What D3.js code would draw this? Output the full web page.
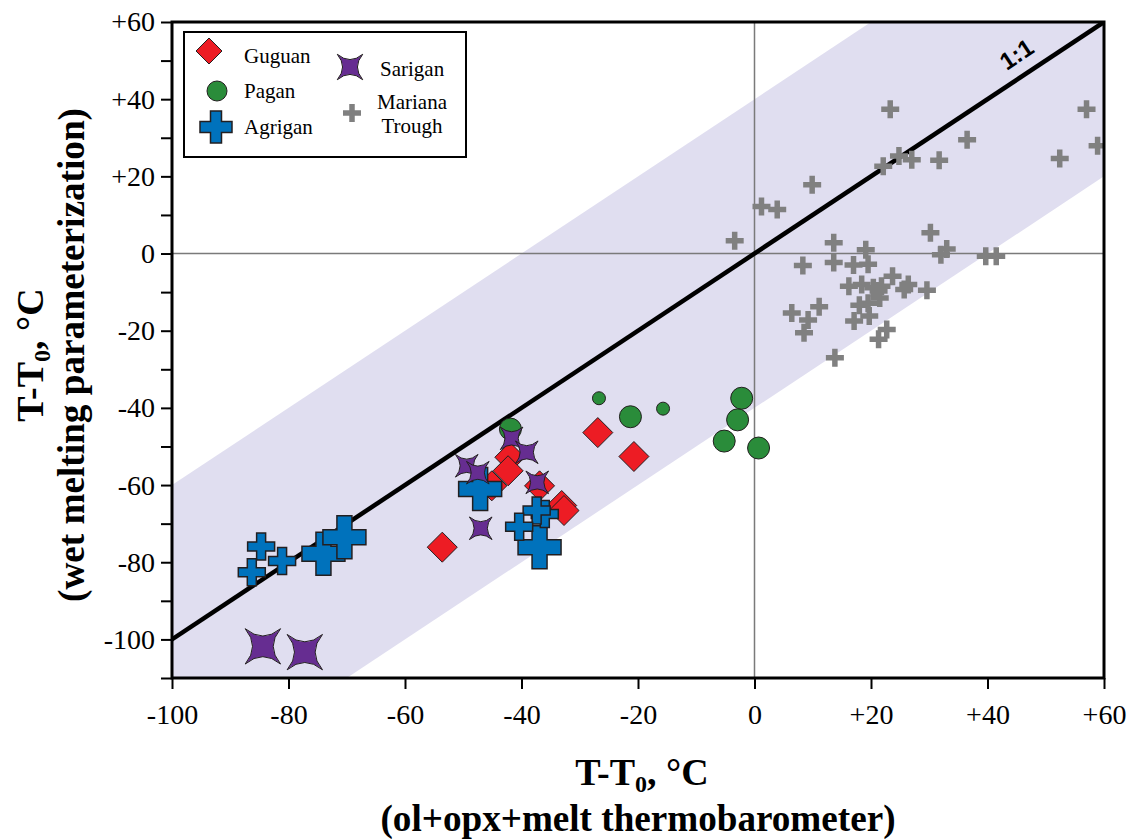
<!DOCTYPE html>
<html>
<head>
<meta charset="utf-8">
<script src="https://cdn.jsdelivr.net/npm/d3@7"></script>
<style>
  html, body { margin: 0; padding: 0; background: #fff; }
  svg { display: block; }
  svg text { font-family: "Liberation Serif", "Times New Roman", serif; }
</style>
</head>
<body>
<svg id="chart" width="1135" height="839"></svg>
<script>
// Temperature offsets T - T0 (°C): [thermobarometer, wet melting parameterization]
const guguan = [
  [-26.9, -46.4], [-20.7, -52.6], [-53.6, -76.1], [-42.0, -52.8], [-42.3, -56.3],
  [-45.1, -60.2], [-36.9, -60.2], [-33.1, -65.3], [-32.7, -66.6]
];
const paganSmall = [[-26.7, -37.5], [-15.7, -40.2]];
const paganLarge = [
  [-21.3, -42.3], [-2.2, -37.5], [-2.9, -43.1], [-5.2, -48.6], [0.7, -50.4], [-41.9, -45.5]
];
const agriganSmall = [
  [-36.0, -67.5], [-37.4, -66.6], [-40.4, -70.8], [-84.7, -75.9], [-81.1, -79.7], [-86.3, -82.6]
];
const agriganLarge = [[-47.1, -61.0], [-36.9, -76.1], [-74.0, -77.8], [-70.4, -73.5]];
const sariganMedium = [
  [-41.7, -47.9], [-39.1, -51.5], [-49.4, -55.0], [-47.5, -56.8], [-37.3, -59.3], [-47.0, -71.2]
];
const sariganLarge = [[-84.4, -101.8], [-77.2, -103.3]];
const marianaTrough = [
  [23.3, 37.4], [57.0, 37.4], [58.9, 27.9], [52.4, 24.6], [36.5, 29.5], [31.7, 24.2],
  [27.0, 24.3], [24.8, 25.3], [22.1, 22.6], [9.9, 17.8], [1.2, 12.2], [3.9, 11.4],
  [-3.4, 3.3], [13.6, 2.8], [19.1, 1.0], [30.2, 5.4], [33.0, 1.2], [32.0, -0.3],
  [39.7, -0.7], [41.5, -0.7], [8.3, -3.1], [13.6, -2.3], [17.0, -3.0], [19.5, -2.8],
  [23.7, -5.9], [16.2, -8.5], [18.4, -8.0], [20.4, -8.9], [21.3, -9.7], [21.8, -8.5],
  [26.4, -8.0], [25.7, -9.3], [29.6, -9.5], [21.5, -11.5], [18.0, -13.4], [19.5, -12.9],
  [11.1, -13.8], [6.4, -15.4], [9.2, -17.2], [8.5, -20.5], [17.1, -17.5], [19.7, -16.2],
  [22.7, -19.7], [21.3, -22.2], [13.8, -27.0]
];

// Axes
const xDomain = [-100, 60];
const yDomain = [-110, 60];
const xTickValues = [-100, -80, -60, -40, -20, 0, 20, 40, 60];
const yLabelValues = [-100, -80, -60, -40, -20, 0, 20, 40, 60];
const yTickValues = d3.range(-110, 61, 10);
const bandHalfWidth = 40;

const serif = '"Liberation Serif", "Times New Roman", serif';
const svg = d3.select("#chart");
const x = d3.scaleLinear().domain(xDomain).range([172, 1104]);
const y = d3.scaleLinear().domain(yDomain).range([678, 22]);

const fmt = v => v > 0 ? "+" + v : (v < 0 ? "-" + Math.abs(v) : "0");

svg.append("clipPath").attr("id", "plot-clip")
  .append("rect").attr("x", x(-100)).attr("y", y(60))
  .attr("width", x(60) - x(-100)).attr("height", y(-110) - y(60));

const plot = svg.append("g").attr("clip-path", "url(#plot-clip)");

// ±40 °C band around the 1:1 line
const bandPts = [
  [-150, -150 + bandHalfWidth], [110, 110 + bandHalfWidth],
  [110, 110 - bandHalfWidth], [-150, -150 - bandHalfWidth]
];
plot.append("path")
  .attr("d", d3.line().x(d => x(d[0])).y(d => y(d[1]))(bandPts) + "Z")
  .attr("fill", "#e0def0");

// zero reference lines
plot.append("line").attr("x1", x(0)).attr("x2", x(0)).attr("y1", y(60)).attr("y2", y(-110))
  .attr("stroke", "#7a7a7a").attr("stroke-width", 1.5);
plot.append("line").attr("x1", x(-100)).attr("x2", x(60)).attr("y1", y(0)).attr("y2", y(0))
  .attr("stroke", "#7a7a7a").attr("stroke-width", 1.5);

// 1:1 line
plot.append("line").attr("x1", x(-110)).attr("y1", y(-110)).attr("x2", x(60)).attr("y2", y(60))
  .attr("stroke", "#000").attr("stroke-width", 4.5);

const angle = -Math.atan2(y(0) - y(1), x(1) - x(0)) * 180 / Math.PI;
svg.append("text")
  .attr("transform", `translate(${x(47)},${y(47)}) rotate(${angle}) translate(0,-13)`)
  .attr("text-anchor", "middle")
  .style("font-family", '"Liberation Sans", Arial, sans-serif')
  .attr("font-weight", "bold").attr("font-size", 24)
  .text("1:1");

// marker shapes
function plusPath(size, arm) {
  const h = size / 2, a = arm / 2;
  return `M${-a},${-h}H${a}V${-a}H${h}V${a}H${a}V${h}H${-a}V${a}H${-h}V${-a}H${-a}Z`;
}
function diamondPath(r) {
  return `M0,${-r}L${r},0L0,${r}L${-r},0Z`;
}
function starPath(r) {
  // four tips on the diagonals with concave sides
  const tips = [45, 135, 225, 315].map(a => [r * Math.cos(a * Math.PI / 180), r * Math.sin(a * Math.PI / 180)]);
  const c = 0.12 * r;
  let p = `M${tips[0][0]},${tips[0][1]}`;
  for (let i = 1; i <= 4; i++) {
    const t = tips[i % 4];
    const prev = tips[i - 1];
    const mx = (prev[0] + t[0]) / 2, my = (prev[1] + t[1]) / 2;
    const len = Math.hypot(mx, my);
    p += `Q${mx / len * c},${my / len * c} ${t[0]},${t[1]}`;
  }
  return p + "Z";
}

const stroke = "#231f20";

function drawPoints(data, path, fill, strokeColor, sw) {
  plot.append("g").selectAll("path").data(data).join("path")
    .attr("transform", d => `translate(${x(d[0])},${y(d[1])})`)
    .attr("d", path)
    .attr("fill", fill)
    .attr("stroke", strokeColor)
    .attr("stroke-width", sw);
}

drawPoints(marianaTrough, plusPath(18, 5.5), "#808080", "none", 0);
drawPoints(paganLarge, d3.symbol(d3.symbolCircle, Math.PI * 11 * 11)(), "#2a8c3a", stroke, 1);
drawPoints(paganSmall, d3.symbol(d3.symbolCircle, Math.PI * 6.5 * 6.5)(), "#2a8c3a", stroke, 1);
drawPoints(guguan, diamondPath(15), "#ed1c24", stroke, 1);
drawPoints(agriganLarge, plusPath(43, 15), "#0072bc", stroke, 1.5);
drawPoints(agriganSmall, plusPath(27, 9), "#0072bc", stroke, 1.5);
drawPoints(sariganMedium, starPath(16), "#662d91", stroke, 1);
drawPoints(sariganLarge, starPath(25), "#662d91", stroke, 1);

// frame
svg.append("rect").attr("x", x(-100)).attr("y", y(60))
  .attr("width", x(60) - x(-100)).attr("height", y(-110) - y(60))
  .attr("fill", "none").attr("stroke", "#000").attr("stroke-width", 3);

// axes
const xAxis = svg.append("g").attr("transform", `translate(0,${y(-110)})`)
  .call(d3.axisBottom(x).tickValues(xTickValues).tickFormat(fmt).tickSize(11).tickPadding(10));
const yAxis = svg.append("g").attr("transform", `translate(${x(-100)},0)`)
  .call(d3.axisLeft(y).tickValues(yTickValues)
    .tickFormat(v => yLabelValues.includes(v) ? fmt(v) : "").tickSize(11).tickPadding(6));

[xAxis, yAxis].forEach(g => {
  g.attr("font-family", null).attr("font-size", null);
  g.select(".domain").remove();
  g.selectAll(".tick line").attr("stroke", "#000").attr("stroke-width", 2);
  g.selectAll(".tick text").style("font-family", serif)
    .style("font-size", "28px").attr("fill", "#000");
});
xAxis.selectAll(".tick text").attr("dy", "0.9em");

// axis titles
function titleLine(sel) {
  sel.append("tspan").text("T-T");
  sel.append("tspan").style("font-size", "24px").attr("dy", 7).text("0");
  sel.append("tspan").attr("dy", -7).text(", °C");
}
const titleStyle = sel => sel.style("font-family", serif).attr("font-weight", "bold")
  .style("font-size", "38px").attr("text-anchor", "middle");

const xt = svg.append("text").attr("x", 642).attr("y", 785).call(titleStyle);
titleLine(xt);
svg.append("text").attr("x", 638).attr("y", 831).call(titleStyle)
  .attr("textLength", 515).attr("lengthAdjust", "spacingAndGlyphs")
  .text("(ol+opx+melt thermobarometer)");

const yt = svg.append("text").attr("transform", "translate(43,355) rotate(-90)").call(titleStyle);
titleLine(yt);
svg.append("text").attr("transform", "translate(84,355) rotate(-90)").call(titleStyle)
  .attr("textLength", 494).attr("lengthAdjust", "spacingAndGlyphs")
  .text("(wet melting parameterization)");

// legend
const lg = svg.append("g");
lg.append("rect").attr("x", 184).attr("y", 32).attr("width", 282).attr("height", 125)
  .attr("fill", "#fff").attr("stroke", "#000").attr("stroke-width", 2);
const legendItems = [
  { name: "Guguan", path: diamondPath(13), fill: "#ed1c24", sw: 1, mx: 209, my: 51, tx: 244, ty: 63 },
  { name: "Pagan", path: d3.symbol(d3.symbolCircle, Math.PI * 10 * 10)(), fill: "#2a8c3a", sw: 1, mx: 217, my: 91, tx: 244, ty: 98 },
  { name: "Agrigan", path: plusPath(32, 11), fill: "#0072bc", sw: 1.5, mx: 216, my: 127, tx: 244, ty: 134 },
  { name: "Sarigan", path: starPath(18), fill: "#662d91", sw: 1, mx: 350, my: 67, tx: 380, ty: 76 }
];
legendItems.forEach(it => {
  lg.append("path").attr("transform", `translate(${it.mx},${it.my})`).attr("d", it.path)
    .attr("fill", it.fill).attr("stroke", stroke).attr("stroke-width", it.sw);
  lg.append("text").attr("x", it.tx).attr("y", it.ty).style("font-size", "21px").text(it.name);
});
lg.append("path").attr("transform", "translate(352,113)").attr("d", plusPath(18, 5.5)).attr("fill", "#808080");
lg.append("text").attr("x", 412).attr("y", 109).attr("text-anchor", "middle").style("font-size", "21px").text("Mariana");
lg.append("text").attr("x", 412).attr("y", 133).attr("text-anchor", "middle").style("font-size", "21px").text("Trough");
</script>
</body>
</html>
